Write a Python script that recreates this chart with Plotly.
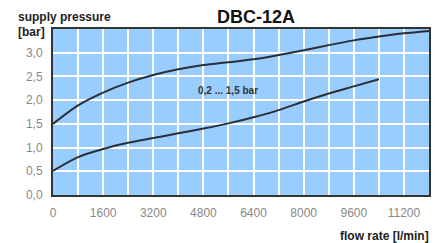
import plotly.graph_objects as go

flow = [0, 800, 1600, 2400, 3200, 4000, 4800, 5600, 6400, 7200, 8000, 8800, 9600, 10400, 11200, 12000]
upper = [1.50, 1.89, 2.16, 2.37, 2.53, 2.65, 2.74, 2.80, 2.86, 2.95, 3.05, 3.16, 3.26, 3.34, 3.41, 3.46]
flow_low = [0, 800, 1600, 2400, 3200, 4000, 4800, 5600, 6400, 7200, 8000, 8800, 9600, 10400]
lower = [0.51, 0.80, 0.97, 1.10, 1.20, 1.30, 1.40, 1.51, 1.64, 1.79, 1.97, 2.14, 2.29, 2.44]

x_ticks = [0, 1600, 3200, 4800, 6400, 8000, 9600, 11200]
x_labels = ["0", "1600", "3200", "4800", "6400", "8000", "9600", "11200"]
y_ticks = [0, 0.5, 1.0, 1.5, 2.0, 2.5, 3.0]
y_labels = ["0,0", "0,5", "1,0", "1,5", "2,0", "2,5", "3,0"]

W, H = 443, 243
ML, MR, MT, MB = 53, 14, 29, 48
PW, PH = W - ML - MR, H - MT - MB

def px(xp):
    return (xp - ML) / PW

def py(yp):
    return (H - MB - yp) / PH

fig = go.Figure()
for xs, ys in [(flow, upper), (flow_low, lower)]:
    fig.add_trace(go.Scatter(x=xs, y=ys, mode="lines",
                             line=dict(color="#2a2f36", width=2, shape="spline", smoothing=0.8),
                             showlegend=False, hoverinfo="skip"))

fig.add_annotation(x=5570, y=2.21, text="<b>0,2 ... 1,5 bar</b>", showarrow=False,
                   font=dict(size=10, color="#333333", family="Liberation Sans"))

fig.update_layout(
    width=W, height=H,
    margin=dict(l=ML, r=MR, t=MT, b=MB),
    paper_bgcolor="white",
    plot_bgcolor="#99ccff",
    font=dict(family="Liberation Sans", color="#666666"),
    title=dict(text="<b>DBC-12A</b>", x=256 / W, xanchor="center", y=1 - 17 / H, yanchor="middle",
               font=dict(size=18, color="#111111", family="Liberation Sans")),
    annotations=list(fig.layout.annotations) + [
        dict(text="<b>supply pressure</b>", xref="paper", yref="paper", x=px(16), y=py(17),
             xanchor="left", yanchor="middle", showarrow=False,
             font=dict(size=12, color="#222222", family="Liberation Sans")),
        dict(text="<b>[bar]</b>", xref="paper", yref="paper", x=px(16), y=py(32),
             xanchor="left", yanchor="middle", showarrow=False,
             font=dict(size=12, color="#222222", family="Liberation Sans")),
        dict(text="<b>flow rate [l/min]</b>", xref="paper", yref="paper", x=px(431), y=py(236),
             xanchor="right", yanchor="middle", showarrow=False,
             font=dict(size=12, color="#222222", family="Liberation Sans")),
    ],
    xaxis=dict(range=[0, 12000], tickvals=x_ticks, ticktext=x_labels,
               showgrid=False, zeroline=False, showline=True, mirror=True,
               linecolor="#333333", linewidth=2, ticks="", automargin=False,
               ticklabelstandoff=6,
               tickfont=dict(size=12, color="#888888", family="Liberation Sans"),
               minor=dict(dtick=800, showgrid=True, gridcolor="white", gridwidth=1.5)),
    yaxis=dict(range=[0, 3.5], tickvals=y_ticks, ticktext=y_labels,
               showgrid=True, gridcolor="white", gridwidth=1.5, zeroline=False,
               showline=True, mirror=True, linecolor="#333333", linewidth=2, ticks="",
               automargin=False, ticklabelstandoff=6,
               tickfont=dict(size=12, color="#888888", family="Liberation Sans")),
)
fig.write_html("out.html", config={"displayModeBar": False},
               post_script="document.body.style.margin='0';document.body.style.padding='0';")
